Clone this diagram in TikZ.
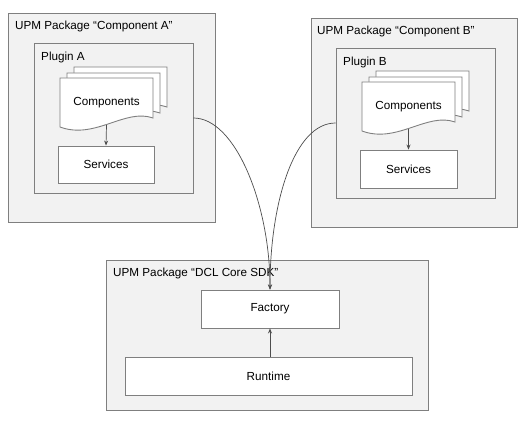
\documentclass[tikz,border=0pt]{standalone}
\usepackage{fontspec}
\setmainfont{Liberation Sans}
\usetikzlibrary{arrows.meta}

\definecolor{boxgray}{HTML}{F2F2F2}
\definecolor{edgegray}{HTML}{7F7F7F}
\definecolor{wiregray}{HTML}{4D4D4D}

\tikzset{
  pkg/.style={draw=edgegray, fill=boxgray, line width=0.9pt, inner sep=0pt},
  block/.style={draw=edgegray, fill=white, line width=0.9pt, inner sep=0pt},
  page/.style={draw=edgegray, fill=white, line width=0.9pt},
  tag/.style={anchor=west, inner sep=0pt},
  wire/.style={draw=wiregray, line width=0.7pt, -{Stealth[length=5pt,width=4pt]}},
}

% stack of three pages, front page top left at (#1,#2)
\newcommand{\docstack}[2]{%
  \foreach \dx/\dy in {14/11, 7/5, 0/0}
    \filldraw[page, shift={(#1+\dx,#2-\dy)}] (0,0) -- (93,0) -- (93,40)
      .. controls (65,30) and (35,62) .. (0,49) -- cycle;
}

\begin{document}
\begin{tikzpicture}[x=1pt, y=-1pt, font=\fontsize{11.7}{14}\selectfont]
  \useasboundingbox[fill=white] (0,0) rectangle (532,427);

  % Package A
  \node[pkg, minimum width=207pt, minimum height=209pt] (pkgA) at (111.5,117.5) {};
  \node[tag] (pkgAtag) at (15,26) {UPM Package “Component A”};
  \node[pkg, minimum width=159pt, minimum height=150pt] (pluginA) at (113.5,118) {};
  \node[tag] (pluginAtag) at (41,57) {Plugin A};
  \docstack{60}{78}
  \node[minimum width=93pt, minimum height=49pt, inner sep=0pt] (compA) at (106.5,102.5) {Components};
  \node[block, minimum width=96pt, minimum height=37pt] (servA) at (106,164.5) {Services};

  % Package B
  \node[pkg, minimum width=206pt, minimum height=209pt] (pkgB) at (414,122.5) {};
  \node[tag] (pkgBtag) at (317,31) {UPM Package “Component B”};
  \node[pkg, minimum width=159pt, minimum height=150pt] (pluginB) at (415.5,123) {};
  \node[tag] (pluginBtag) at (343,62) {Plugin B};
  \docstack{362}{82}
  \node[minimum width=93pt, minimum height=49pt, inner sep=0pt] (compB) at (408.5,106.5) {Components};
  \node[block, minimum width=97pt, minimum height=38pt] (servB) at (408.5,169) {Services};

  % Package DCL Core SDK
  \node[pkg, minimum width=322pt, minimum height=150pt] (pkgCore) at (267,335) {};
  \node[tag] (pkgCoretag) at (113,273) {UPM Package “DCL Core SDK”};
  \node[block, minimum width=138pt, minimum height=38pt] (factory) at (270,309) {Factory};
  \node[block, minimum width=287pt, minimum height=38pt] (runtime) at (268.5,376) {Runtime};

  % connectors
  \draw[wire] ([yshift=2pt]compA.south) -- (servA.north);
  \draw[wire] ([yshift=2pt]compB.south) -- (servB.north);
  \draw[wire] (runtime.north -| factory.north) -- (factory.south);
  \draw[wire] (pluginA.east) .. controls +(42,0) and +(0,-85) .. (factory.north);
  \draw[wire] (pluginB.west) .. controls +(-42,0) and +(0,-85) .. (factory.north);
\end{tikzpicture}
\end{document}
